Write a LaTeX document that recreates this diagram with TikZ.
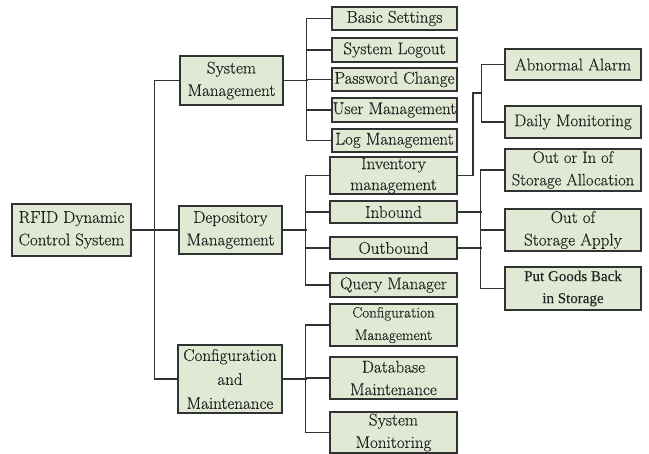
\documentclass[tikz,border=0pt]{standalone}
\usepackage{fontspec}
\usetikzlibrary{calc}
\setmainfont{Latin Modern Roman}[FakeBold=0.3]
\newfontfamily\timesf{Liberation Serif}[FakeBold=0.2]
\definecolor{boxfill}{RGB}{223,233,211}
\definecolor{linecol}{RGB}{50,50,50}
\definecolor{txtcol}{RGB}{35,35,35}
\tikzset{
  box/.style={draw=linecol, line width=1.5pt, fill=boxfill, inner sep=0pt, align=center,
    text=txtcol, font=\fontsize{17}{22.5}\selectfont, anchor=center},
  conn/.style={draw=linecol, line width=1.5pt},
}
\begin{document}
\begin{tikzpicture}[x=1pt,y=-1pt]
\useasboundingbox (0,0) rectangle (649,454);
% level 0/1
\node[box, minimum width=119pt, minimum height=52pt] (root) at (71.5,230) {RFID Dynamic\\Control System};
\node[box, minimum width=103pt, minimum height=49pt] (sys) at (231.5,80.5) {System\\Management};
\node[box, minimum width=103pt, minimum height=48pt] (dep) at (230.5,230) {Depository\\Management};
\node[box, minimum width=104pt, minimum height=68pt, font=\fontsize{17}{24}\selectfont] (conf) at (230,379) {Configuration\\and\\Maintenance};
% system management children
\node[box, minimum width=125pt, minimum height=23pt] (basic) at (394.5,18.5) {Basic Settings};
\node[box, minimum width=125pt, minimum height=24pt] (logout) at (394.5,50) {System Logout};
\node[box, minimum width=125pt, minimum height=23pt] (pwd) at (394.5,79.5) {Password Change};
\node[box, minimum width=125pt, minimum height=24pt] (user) at (394.5,110) {User Management};
\node[box, minimum width=125pt, minimum height=23pt] (logm) at (394.5,140.5) {Log Management};
% depository children
\node[box, minimum width=127pt, minimum height=37pt, font=\fontsize{17}{21}\selectfont] (inv) at (393.5,175.5) {Inventory\\management};
\node[box, minimum width=127pt, minimum height=22pt] (inb) at (393.5,212) {Inbound};
\node[box, minimum width=127pt, minimum height=22pt] (outb) at (393.5,248) {Outbound};
\node[box, minimum width=127pt, minimum height=24pt] (query) at (393.5,285) {Query Manager};
% configuration children
\node[box, minimum width=127pt, minimum height=42pt, font=\fontsize{15}{22.5}\selectfont] (cfgm) at (393.5,325) {Configuration\\Management};
\node[box, minimum width=127pt, minimum height=42pt] (dbm) at (393.5,378) {Database\\Maintenance};
\node[box, minimum width=127pt, minimum height=41pt] (smon) at (393.5,432.5) {System\\Monitoring};
% right column
\node[box, minimum width=136pt, minimum height=31pt] (alarm) at (573,64.5) {Abnormal Alarm};
\node[box, minimum width=136pt, minimum height=32pt] (daily) at (573,122) {Daily Monitoring};
\node[box, minimum width=136pt, minimum height=42pt, font=\fontsize{16.5}{22.5}\selectfont] (alloc) at (573,170) {Out or In of\\Storage Allocation};
\node[box, minimum width=136pt, minimum height=42pt] (apply) at (573,230) {Out of\\Storage Apply};
\node[box, minimum width=136pt, minimum height=43pt, font=\timesf\fontsize{15}{22}\selectfont] (putb) at (573,288.5) {Put Goods Back\\in Storage};
% trunk
\draw[conn] (root.east) -- (dep.west);
\draw[conn] (sys.west) -- ++(-25,0) |- (conf.west);
% system management branch
\draw[conn] (sys.east) -- ++(24,0);
\draw[conn] (basic.west) -- ++(-25,0) |- (logm.west);
\foreach \n in {logout,pwd,user} \draw[conn] (\n.west) -- ++(-25,0);
% depository branch
\draw[conn] (dep.east) -- ++(24,0);
\draw[conn] (inv.west) -- ++(-24,0) |- (query.west);
\foreach \n in {inb,outb} \draw[conn] (\n.west) -- ++(-24,0);
% configuration branch
\draw[conn] (conf.east) -- ++(24,0);
\draw[conn] (cfgm.west) -- ++(-24,0) |- (smon.west);
\draw[conn] (dbm.west) -- ++(-24,0);
% inventory to monitoring
\draw[conn] (inv.east) -- ++(15,0) |- ($(alarm.west)!0.5!(daily.west)+(-23,0)$);
\draw[conn] (alarm.west) -- ++(-23,0) |- (daily.west);
% inbound/outbound to storage
\draw[conn] (alloc.west) -- ++(-24,0) |- (putb.west);
\draw[conn] (apply.west) -- ++(-24,0);
\draw[conn] (inb.east) -- ++(24,0);
\draw[conn] (outb.east) -- ++(24,0);
\end{tikzpicture}
\end{document}
